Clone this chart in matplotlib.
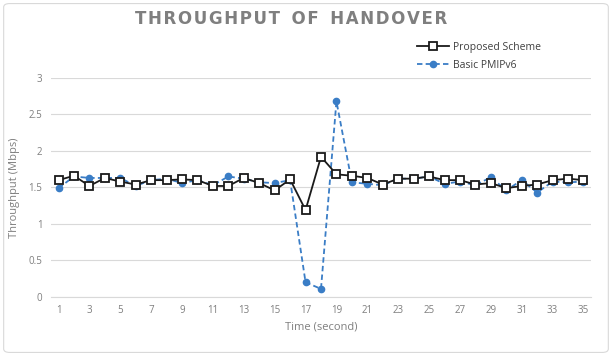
import matplotlib
matplotlib.use('Agg')
import matplotlib.pyplot as plt
from matplotlib.patches import FancyBboxPatch

time_s = list(range(1, 36))
proposed = [1.60, 1.66, 1.52, 1.63, 1.58, 1.54, 1.60, 1.60, 1.61, 1.60,
            1.52, 1.52, 1.63, 1.56, 1.46, 1.61, 1.19, 1.92, 1.68, 1.66,
            1.63, 1.54, 1.62, 1.62, 1.65, 1.60, 1.60, 1.54, 1.56, 1.49,
            1.52, 1.54, 1.60, 1.62, 1.60]
basic = [1.49, 1.65, 1.63, 1.63, 1.63, 1.52, 1.60, 1.62, 1.56, 1.60,
         1.53, 1.65, 1.62, 1.57, 1.56, 1.60, 0.20, 0.11, 2.68, 1.57,
         1.55, 1.53, 1.62, 1.62, 1.65, 1.55, 1.58, 1.53, 1.64, 1.46,
         1.60, 1.43, 1.58, 1.57, 1.58]
x_ticks = list(range(1, 36, 2))
y_ticks = [0, 0.5, 1, 1.5, 2, 2.5, 3]
y_tick_labels = ['0', '0.5', '1', '1.5', '2', '2.5', '3']

C_TXT = '#7f7f7f'
C_BLUE = '#3a7dc6'

plt.rcParams['font.family'] = ['Open Sans', 'DejaVu Sans']

fig = plt.figure(figsize=(6.12, 3.56), dpi=100)
fig.patches.append(FancyBboxPatch((0.006, 0.01), 0.988, 0.98, boxstyle='round,pad=0,rounding_size=0.01',
                                  transform=fig.transFigure, fill=False, ec='#d9d9d9', lw=0.8))
ax = fig.add_axes([0.083, 0.166, 0.883, 0.615])

ax.plot(time_s, basic, '--o', color=C_BLUE, lw=1.3, ms=4.5, dashes=(3, 1.8),
        label='Basic PMIPv6', zorder=2)
ax.plot(time_s, proposed, '-s', color='#1a1a1a', lw=1.3, ms=5.2, mfc='white', mec='#1a1a1a',
        mew=1.3, label='Proposed Scheme', zorder=3)

ax.set_xlim(0.5, 35.5)
ax.set_ylim(0, 3)
ax.set_xticks(x_ticks)
ax.set_yticks(y_ticks)
ax.set_yticklabels(y_tick_labels)
ax.tick_params(length=0, labelsize=7, colors=C_TXT, pad=6)
ax.grid(axis='y', color='#d9d9d9', lw=0.8)
ax.set_axisbelow(True)
for s in ('top', 'right', 'left'):
    ax.spines[s].set_visible(False)
ax.spines['bottom'].set_color('#d9d9d9')

ax.set_xlabel('Time (second)', fontsize=8, color=C_TXT, labelpad=4)
ax.set_ylabel('Throughput (Mbps)', fontsize=8, color=C_TXT, labelpad=6)

# letter-spaced title: hair spaces between letters, normal space between words
title = '\u200a'.join('THROUGHPUT OF HANDOVER').replace('\u200a \u200a', '  ')
fig.text(0.475, 0.947, title, ha='center', va='center', fontsize=12,
         fontweight='bold', color=C_TXT, family=['DejaVu Sans'])

h, l = ax.get_legend_handles_labels()
leg = fig.legend(h[::-1], l[::-1], loc='upper left', bbox_to_anchor=(0.675, 0.895),
                 frameon=False, fontsize=7.5, handlelength=3.0, labelspacing=0.7,
                 borderaxespad=0, handletextpad=0.4)
for t in leg.get_texts():
    t.set_color('#404040')

fig.savefig('out.png', dpi=100, facecolor='white')
